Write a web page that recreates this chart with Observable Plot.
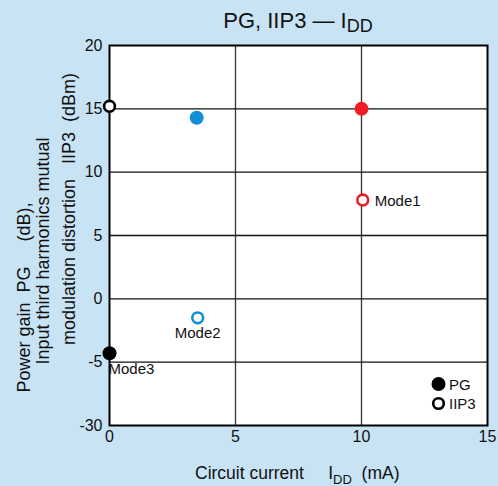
<!DOCTYPE html>
<html>
<head>
<meta charset="utf-8">
<script src="https://cdn.jsdelivr.net/npm/d3@7"></script>
<script src="https://cdn.jsdelivr.net/npm/@observablehq/plot@0.6"></script>
<style>
  html, body { margin: 0; padding: 0; background: #c7e3f4; }
  svg text { font-family: "Liberation Sans", Arial, sans-serif; }
</style>
</head>
<body>
<div id="chart"></div>
<script>
// ---- data ----
const modes = ["Mode1", "Mode2", "Mode3"];
const modeColors = ["#ee1d25", "#128fd7", "#000000"];
const iddValues = [10.0, 3.46, 0.0];          // Circuit current IDD (mA) for PG
const pgValues = [15.0, 14.3, -4.3];          // Power gain PG (dB)
const iip3Idd = [10.05, 3.5, 0.0];            // IDD for IIP3 points
const iip3Values = [7.8, -1.5, 15.2];         // IIP3 (dBm)
const xTicks = [0, 5, 10, 15];
const yTickPositions = [-10, -5, 0, 5, 10, 15, 20];
const yTickLabels = ["-30", "-5", "0", "5", "10", "15", "20"];
const legendLabels = ["PG", "IIP3"];

const pgData = modes.map((m, i) => ({mode: m, x: iddValues[i], y: pgValues[i], color: modeColors[i]}));
const iipData = modes.map((m, i) => ({mode: m, x: iip3Idd[i], y: iip3Values[i], color: modeColors[i]}));

const W = 498, H = 486;
const mL = 109, mR = 11, mT = 45, mB = 61;

const font = '"Liberation Sans", Arial, sans-serif';

const plot = Plot.plot({
  width: W, height: H,
  marginLeft: mL, marginRight: mR, marginTop: mT, marginBottom: mB,
  style: {background: "#c7e3f4", fontFamily: font, fontSize: "16px", color: "#111"},
  x: {domain: [0, 15], ticks: xTicks, tickSize: 0, tickPadding: 5, label: null},
  y: {domain: [-10, 20], ticks: yTickPositions, tickSize: 0, tickPadding: 7, label: null,
      tickFormat: d => yTickLabels[yTickPositions.indexOf(d)]},
  marks: [
    Plot.frame({fill: "white"}),
    Plot.ruleX(xTicks.slice(1, -1), {stroke: "#333", strokeWidth: 1.3}),
    Plot.ruleY(yTickPositions.slice(1, -1), {stroke: "#111", strokeWidth: 1.3}),
    Plot.frame({stroke: "#000", strokeWidth: 2}),
    Plot.dot(pgData, {x: "x", y: "y", r: 7, fill: "color", stroke: "none"}),
    Plot.dot(iipData, {x: "x", y: "y", r: 5.4, fill: "white", stroke: "color", strokeWidth: 2.6}),
    Plot.text(iipData.filter(d => d.mode === "Mode1"), {x: "x", y: "y", text: "mode", textAnchor: "start", dx: 12, dy: 1, fontSize: 15, fill: "#111"}),
    Plot.text(iipData.filter(d => d.mode === "Mode2"), {x: "x", y: "y", text: "mode", textAnchor: "middle", dy: 15, fontSize: 15, fill: "#111"}),
    Plot.text(pgData.filter(d => d.mode === "Mode3"), {x: "x", y: "y", text: "mode", textAnchor: "start", dx: -1, dy: 16, fontSize: 15, fill: "#111"})
  ]
});

document.getElementById("chart").appendChild(plot);
const svg = d3.select(plot);
svg.selectAll("g[aria-label='x-axis tick label'] text, g[aria-label='y-axis tick label'] text").attr("fill", "#111");

// title
const t = svg.append("text").attr("x", 298).attr("y", 27.5).attr("text-anchor", "middle")
  .attr("font-size", 22).attr("fill", "#111").style("font-family", font);
t.append("tspan").text("PG, IIP3 \u2014 I");
t.append("tspan").attr("font-size", 18).attr("dy", 4.5).text("DD");

// x label
const xl = svg.append("text").attr("x", 195).attr("y", 479).attr("text-anchor", "start")
  .attr("font-size", 17.5).attr("fill", "#111").style("font-family", font);
xl.append("tspan").text("Circuit current\u00a0\u00a0\u00a0\u00a0\u00a0I");
xl.append("tspan").attr("font-size", 13).attr("dy", 5).text("DD");
xl.append("tspan").attr("dy", -5).text("\u00a0\u00a0(mA)");

// y label (three lines)
const yLines = [
  {text: "Power gain\u00a0\u00a0PG\u00a0\u00a0\u00a0\u00a0\u00a0(dB),", x: 29.5, c: 297.5},
  {text: "Input third harmonics mutual", x: 49, c: 251},
  {text: "modulation distortion\u00a0\u00a0\u00a0IIP3\u00a0\u00a0(dBm)", x: 74.5, c: 209}
];
yLines.forEach(l => {
  svg.append("text").attr("transform", `translate(${l.x},${l.c}) rotate(-90)`)
    .attr("text-anchor", "middle").attr("font-size", 18).attr("fill", "#111")
    .style("font-family", font).text(l.text);
});

// legend
const lg = svg.append("g");
legendLabels.forEach((lab, i) => {
  const cy = 384 + i * 19.5;
  if (i === 0) lg.append("circle").attr("cx", 438.5).attr("cy", cy).attr("r", 7).attr("fill", "#000");
  else lg.append("circle").attr("cx", 438.5).attr("cy", cy).attr("r", 5.3).attr("fill", "white").attr("stroke", "#000").attr("stroke-width", 2.6);
  lg.append("text").attr("x", 449).attr("y", cy + 5.5).attr("text-anchor", "start")
    .attr("font-size", 15).attr("fill", "#111")
    .style("font-family", font).text(lab);
});
</script>
</body>
</html>
